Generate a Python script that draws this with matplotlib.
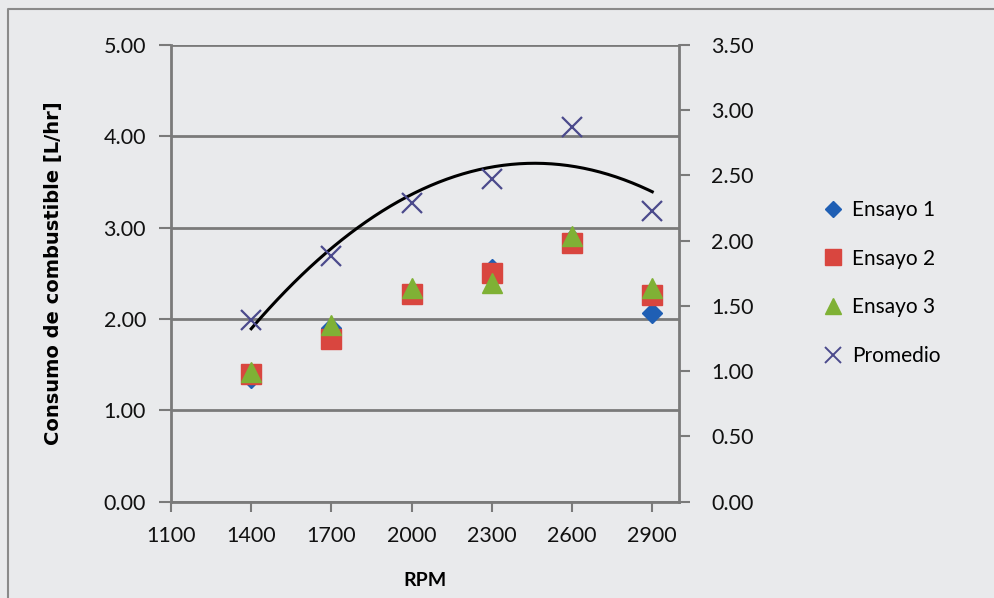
import numpy as np
import matplotlib
matplotlib.use("Agg")
import matplotlib.pyplot as plt
from matplotlib.lines import Line2D

plt.rcParams['font.family'] = ['Lato', 'DejaVu Sans']

# Engine speed and fuel consumption per test run
rpm = [1400, 1700, 2000, 2300, 2600, 2900]
ensayo_1 = [1.35, 1.90, 2.27, 2.55, 2.88, 2.06]
ensayo_2 = [1.40, 1.78, 2.27, 2.50, 2.83, 2.26]
ensayo_3 = [1.42, 1.93, 2.34, 2.39, 2.91, 2.34]
promedio = [1.39, 1.88, 2.29, 2.47, 2.87, 2.23]

left_ticks = [0, 1, 2, 3, 4, 5]
right_ticks = [0, 0.5, 1.0, 1.5, 2.0, 2.5, 3.0, 3.5]
x_ticks = [1100, 1400, 1700, 2000, 2300, 2600, 2900]

bg = '#e9eaec'
grid_c = '#7a7a7a'
tick_font = 15.5

fig = plt.figure(figsize=(9.94, 5.98), dpi=100, facecolor=bg)
ax = fig.add_axes([171 / 994, 1 - 501.5 / 598, (679 - 171) / 994, (501.5 - 45) / 598])
ax.set_facecolor(bg)

# outer frame of the chart area
fig.add_artist(Line2D([8 / 994, 8 / 994, 1.0], [0.0, 1 - 9 / 598, 1 - 9 / 598],
                      transform=fig.transFigure, color='#8a8a8a', lw=1.5))

ax.plot(rpm, ensayo_1, linestyle='none', marker='D', ms=10, color='#1f5fb4',
        mec='#1f5fb4', label='Ensayo 1', zorder=3)
ax.plot(rpm, ensayo_2, linestyle='none', marker='s', ms=14, color='#d9463f',
        mec='#d9463f', label='Ensayo 2', zorder=4)
ax.plot(rpm, ensayo_3, linestyle='none', marker='^', ms=14, color='#7fb135',
        mec='#7fb135', label='Ensayo 3', zorder=5)

ax.set_xlim(1100, 3000)
ax.set_ylim(0, 5)
ax.set_xticks(x_ticks)
ax.set_yticks(left_ticks)
ax.set_yticklabels([f"{v:.2f}" for v in left_ticks])
ax.yaxis.grid(True, color=grid_c, lw=2)
ax.set_axisbelow(True)

for side in ['top', 'right']:
    ax.spines[side].set_visible(False)
for side in ['left', 'bottom']:
    ax.spines[side].set_color(grid_c)
    ax.spines[side].set_linewidth(2)

ax.tick_params(axis='both', direction='out', length=7, width=1.5, color=grid_c,
               labelsize=tick_font, labelcolor='#111111')
ax.tick_params(axis='x', pad=11)
ax.tick_params(axis='y', length=9, pad=9)

ax.set_xlabel('RPM', fontsize=14, fontweight='bold', labelpad=18)
ax.set_ylabel('Consumo de combustible [L/hr]', fontsize=14, fontweight='bold',
              family='DejaVu Sans', labelpad=29)

# Average on the secondary axis with a quadratic trend line
ax2 = ax.twinx()
ax2.set_ylim(0, 3.5)
ax2.set_yticks(right_ticks)
ax2.set_yticklabels([f"{v:.2f}" for v in right_ticks])
for side in ['top', 'left', 'bottom']:
    ax2.spines[side].set_visible(False)
ax2.spines['right'].set_color(grid_c)
ax2.spines['right'].set_linewidth(2)
ax2.tick_params(axis='y', direction='out', length=8, width=1.5, color=grid_c,
                labelsize=tick_font, labelcolor='#111111', pad=15)

ax2.plot(rpm, promedio, linestyle='none', marker='x', ms=15, mew=1.6,
         color='#4b4a8c', label='Promedio', zorder=6)
coef = np.polyfit(rpm, promedio, 2)
xs = np.linspace(rpm[0], rpm[-1], 200)
ax2.plot(xs, np.polyval(coef, xs), color='black', lw=2.2, zorder=5)

handles = [
    Line2D([], [], linestyle='none', marker='D', ms=8, color='#1f5fb4'),
    Line2D([], [], linestyle='none', marker='s', ms=11, color='#d9463f'),
    Line2D([], [], linestyle='none', marker='^', ms=11, color='#7fb135'),
    Line2D([], [], linestyle='none', marker='x', ms=11, mew=1.4, color='#4b4a8c'),
]
labels = ['Ensayo 1', 'Ensayo 2', 'Ensayo 3', 'Promedio']
fig.legend(handles, labels, loc='center left', bbox_to_anchor=(816 / 994, 1 - 283 / 598),
           frameon=False, fontsize=15, labelspacing=1.38, handlelength=0.8,
           handletextpad=0.55, borderaxespad=0)

fig.savefig('out.png', dpi=100, facecolor=bg)
